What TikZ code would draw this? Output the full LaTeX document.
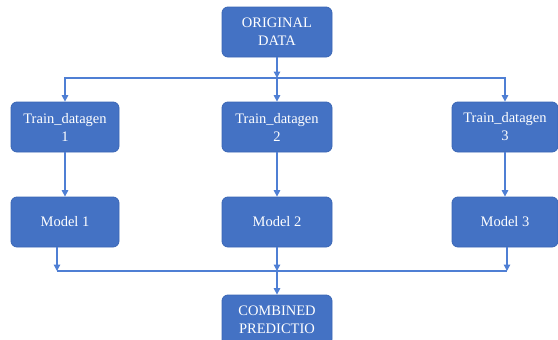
\documentclass[tikz,border=0pt]{standalone}
\usepackage{fontspec}
\setmainfont{Liberation Serif}
\usetikzlibrary{arrows.meta}

\definecolor{boxblue}{HTML}{4472C4}
\definecolor{edgeblue}{HTML}{3A66B5}
\definecolor{lineblue}{HTML}{4F7FD4}

\tikzset{
    stage/.style={draw=edgeblue, fill=boxblue, rounded corners=6pt, line width=0.8pt,
        text=white, align=center, font=\fontsize{14.5}{18}\selectfont,
        minimum width=108pt, minimum height=50pt, inner sep=2pt},
    flow/.style={draw=lineblue, line width=1.3pt, -{Triangle[length=6.5pt,width=6.5pt]}},
    bus/.style={draw=lineblue, line width=1.3pt}
}

\begin{document}
\begin{tikzpicture}[x=1pt,y=-1pt]
    \clip (0,0) rectangle (558,340);
    \useasboundingbox (0,0) rectangle (558,340);

    \node[stage, minimum width=110pt] (orig) at (277,32) {ORIGINAL\\DATA};

    \node[stage] (gen1) at (65,127) {Train\_datagen\\1};
    \node[stage, minimum width=110pt] (gen2) at (277,127) {Train\_datagen\\2};
    \node[stage, minimum width=106pt] (gen3) at (505,127) {Train\_datagen\\3};

    \node[stage] (model1) at (65,222) {Model 1};
    \node[stage, minimum width=110pt] (model2) at (277,222) {Model 2};
    \node[stage, minimum width=106pt] (model3) at (505,222) {Model 3};

    \node[stage, minimum width=110pt] (comb) at (277,320) {COMBINED\\PREDICTIO};

    % split bus
    \coordinate (splitc) at (277,78);
    \draw[flow] (orig.south) -- (splitc);
    \draw[flow] (splitc) -| (gen1.north);
    \draw[flow] (splitc) -| (gen3.north);
    \draw[flow] (splitc) -- (gen2.north);

    \draw[flow] (gen1) -- (model1);
    \draw[flow] (gen2) -- (model2);
    \draw[flow] (gen3) -- (model3);

    % merge bus
    \coordinate (mergel) at (57,271);
    \coordinate (mergec) at (277,271);
    \coordinate (merger) at (507,271);
    \draw[flow] (model1.south -| mergel) -- (mergel);
    \draw[flow] (model2.south) -- (mergec);
    \draw[flow] (model3.south -| merger) -- (merger);
    \draw[bus] (mergel) -- (merger);
    \draw[flow] (mergec) -- (comb.north);
\end{tikzpicture}
\end{document}
